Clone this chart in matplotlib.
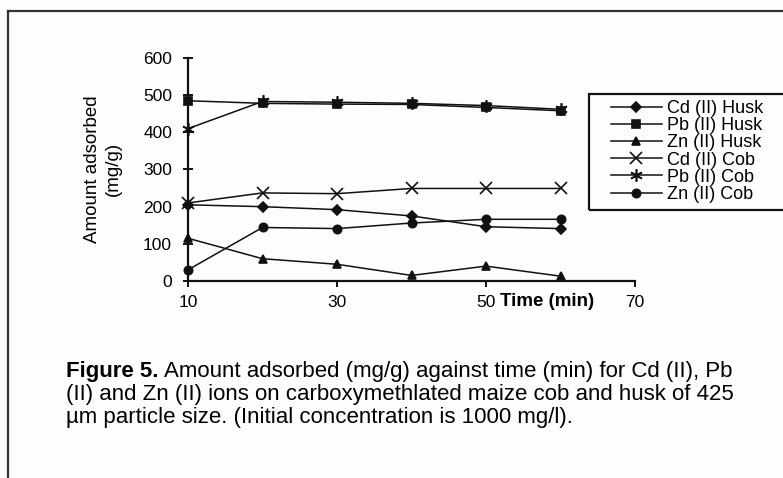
"""Amount adsorbed against time for Cd, Pb and Zn on maize cob and husk"""
import matplotlib
matplotlib.use("Agg")
from matplotlib import pyplot as plt
from matplotlib.lines import Line2D
from matplotlib.patches import Rectangle

plt.rcParams['font.family'] = ['Liberation Sans', 'DejaVu Sans']

time = [10, 20, 30, 40, 50, 60]
cd_husk = [205, 200, 192, 175, 146, 141]
pb_husk = [485, 478, 476, 475, 467, 458]
zn_husk = [115, 60, 45, 15, 40, 13]
cd_cob = [210, 237, 235, 249, 249, 249]
pb_cob = [410, 483, 481, 478, 472, 462]
zn_cob = [30, 144, 141, 156, 166, 166]

labels = ["Cd (II) Husk", "Pb (II) Husk", "Zn (II) Husk",
          "Cd (II) Cob", "Pb (II) Cob", "Zn (II) Cob"]
x_ticks = [10, 30, 50, 70]
y_ticks = [0, 100, 200, 300, 400, 500, 600]

caption_lines = [
    "Amount adsorbed (mg/g) against time (min) for Cd (II), Pb",
    "(II) and Zn (II) ions on carboxymethlated maize cob and husk of 425",
    "\u00b5m particle size. (Initial concentration is 1000 mg/l).",
]


def main():
    W, H = 783, 478
    fig = plt.figure(figsize=(W / 100, H / 100), dpi=100)
    fig.patch.set_facecolor("#fdfdfb")

    # scanned page frame (top and left edges)
    fig.add_artist(Line2D([8 / W, 1], [1 - 11 / H] * 2, color="#333333",
                          lw=1.6, transform=fig.transFigure))
    fig.add_artist(Line2D([8 / W] * 2, [0, 1 - 11 / H], color="#333333",
                          lw=1.6, transform=fig.transFigure))

    ax = fig.add_axes([188 / W, 1 - 281 / H, (635 - 188) / W, (281 - 58) / H])
    ax.set_facecolor("none")

    series = [cd_husk, pb_husk, zn_husk, cd_cob, pb_cob, zn_cob]
    markers = ["D", "s", "^", "x", (6, 2, 0), "o"]
    sizes = [5, 6, 6, 8, 9, 6]
    handles = []
    for vals, mk, ms, lab in zip(series, markers, sizes, labels):
        h, = ax.plot(time, vals, color="#111111", lw=1.1, marker=mk,
                     markersize=ms, markeredgewidth=1.2, label=lab,
                     clip_on=False)
        handles.append(h)

    ax.set_xlim(10, 70)
    ax.set_ylim(0, 600)
    ax.set_xticks(x_ticks)
    ax.set_yticks(y_ticks)
    for s in ["top", "right"]:
        ax.spines[s].set_visible(False)
    for s in ["left", "bottom"]:
        ax.spines[s].set_linewidth(1.6)
        ax.spines[s].set_color("#111111")
    ax.tick_params(axis="y", direction="inout", length=7, width=1.3,
                   labelsize=12.5, pad=8)
    ax.tick_params(axis="x", direction="out", length=4, width=1.3,
                   labelsize=12.5, pad=6)

    fig.text(103 / W, 1 - 169 / H, "Amount adsorbed\n(mg/g)", rotation=90,
             ha="center", va="center", fontsize=13.5, linespacing=1.3,
             multialignment="center")
    fig.text(500 / W, 1 - 301 / H, "Time (min)", fontsize=13.5,
             fontweight="bold", ha="left", va="center")

    # legend box, clipped by the right edge of the scan
    fig.add_artist(Rectangle((589 / W, 1 - 210 / H), 230 / W, 116 / H,
                             transform=fig.transFigure, fill=False,
                             edgecolor="#111111", lw=1.6))
    fig.legend(handles=handles, loc="upper left",
               bbox_to_anchor=(611 / W, 1 - 100 / H), fontsize=13,
               frameon=False, handlelength=2.8, labelspacing=0.01,
               borderpad=0, handletextpad=0.3, borderaxespad=0)

    # caption
    cap_size = 16
    t = fig.text(66 / W, 1 - 377 / H, "Figure 5.", fontsize=cap_size,
                 fontweight="bold", va="baseline")
    fig.canvas.draw()
    x1 = t.get_window_extent().x1
    fig.text((x1 + 5) / W, 1 - 377 / H, caption_lines[0], fontsize=cap_size,
             va="baseline")
    fig.text(66 / W, 1 - 400 / H, caption_lines[1], fontsize=cap_size,
             va="baseline")
    fig.text(66 / W, 1 - 423 / H, caption_lines[2], fontsize=cap_size,
             va="baseline")

    fig.savefig("out.png", dpi=100, facecolor=fig.get_facecolor())


if __name__ == '__main__':
    main()
